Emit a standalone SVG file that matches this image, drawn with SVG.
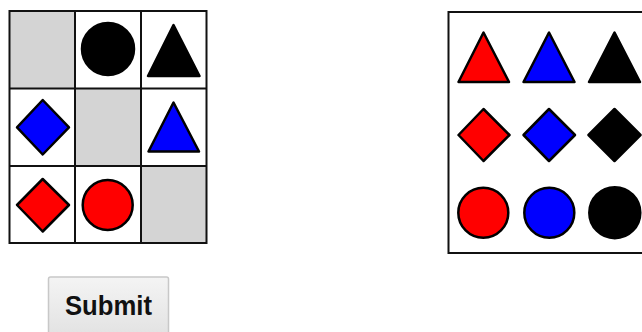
<svg xmlns="http://www.w3.org/2000/svg" width="642" height="332" viewBox="0 0 642 332">
<defs>
<linearGradient id="btn" x1="0" y1="0" x2="0" y2="1">
<stop offset="0" stop-color="#f4f4f4"/>
<stop offset="1" stop-color="#e2e2e2"/>
</linearGradient>
</defs>
<style>
.sh{stroke:#000;stroke-width:2.5;stroke-linejoin:round}
.r{fill:#ff0000}.b{fill:#0000ff}.k{fill:#000}
.gray{fill:#d4d4d4}
.grid{fill:none;stroke:#111;stroke-width:2}
.txt{font-family:"Liberation Sans",Arial,sans-serif;font-weight:bold;font-size:27px;fill:#111}
</style>
<rect width="642" height="332" fill="#fff"/>
<g id="left-grid">
<rect class="gray" x="10" y="11" width="65" height="77"/>
<rect class="gray" x="75" y="88" width="66" height="78"/>
<rect class="gray" x="141" y="166" width="65" height="77"/>
<rect class="grid" x="9.5" y="11" width="197" height="232"/>
<line class="grid" x1="75" y1="11" x2="75" y2="243"/>
<line class="grid" x1="141" y1="11" x2="141" y2="243"/>
<line class="grid" x1="9.5" y1="88.5" x2="206.5" y2="88.5"/>
<line class="grid" x1="9.5" y1="166" x2="206.5" y2="166"/>
<circle class="sh k" cx="108" cy="49" r="26"/>
<polygon class="sh k" points="173.5,25 148,76 199.5,76"/>
<polygon class="sh b" points="42.7,100 69,127.3 42.7,154.5 17,127.3"/>
<polygon class="sh b" points="173.5,102.5 148.5,151.5 199,151.5"/>
<polygon class="sh r" points="42.7,179 69,205 42.7,231.5 17,205"/>
<circle class="sh r" cx="107.7" cy="205" r="25"/>
</g>
<g id="right-box">
<rect class="grid" x="448.5" y="12" width="200" height="241"/>
<polygon class="sh r" points="483.5,32.5 458.5,82 509,82"/>
<polygon class="sh b" points="549,32.5 523.5,82 574.5,82"/>
<polygon class="sh k" points="614.5,32.5 589,82 640,82"/>
<polygon class="sh r" points="483.5,109 509.5,135 483.5,161 458.5,135"/>
<polygon class="sh b" points="549,109 575,135 549,161 523.5,135"/>
<polygon class="sh k" points="614.5,109 640.5,135 614.5,161 588.5,135"/>
<circle class="sh r" cx="483.3" cy="212.7" r="25"/>
<circle class="sh b" cx="549.3" cy="212.7" r="25"/>
<circle class="sh k" cx="614.8" cy="212.7" r="25.5"/>
</g>
<g id="submit">
<rect x="48.5" y="277" width="120" height="60" rx="2" fill="url(#btn)" stroke="#c8c8c8" stroke-width="1.5"/>
<text class="txt" x="108.5" y="315" text-anchor="middle" textLength="87" lengthAdjust="spacingAndGlyphs">Submit</text>
</g>
</svg>
